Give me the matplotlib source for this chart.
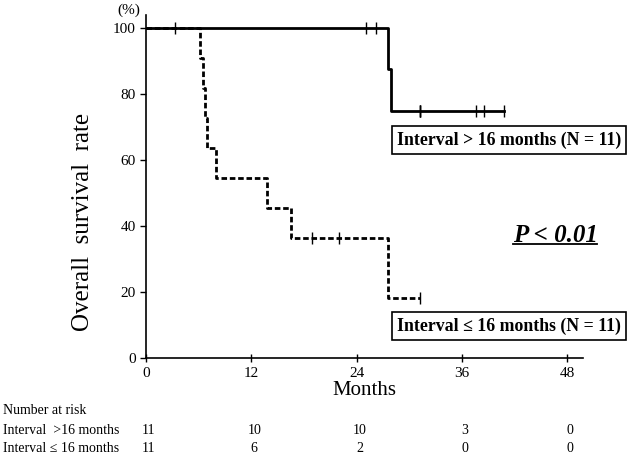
import numpy as np
import matplotlib.pyplot as plt

plt.rcParams['font.family'] = ['Liberation Serif', 'DejaVu Serif']

# Kaplan-Meier curves (months, % surviving)
long_t = [0, 27.6, 27.9, 40.8]
long_s = [100, 87.5, 75, 75]
long_cens_t = [3.3, 25.1, 26.2, 31.2, 31.2, 31.2, 37.6, 38.5, 40.8]
long_cens_s = [100, 100, 100, 75, 75, 75, 75, 75, 75]

short_t = [0, 6.2, 6.5, 6.7, 7.0, 8.0, 13.8, 16.5, 27.6, 31.2]
short_s = [100, 90.9, 81.8, 72.7, 63.6, 54.5, 45.5, 36.4, 18.2, 18.2]
short_cens_t = [18.9, 22.0, 31.2]
short_cens_s = [36.4, 36.4, 18.2]

risk_times = [0, 12, 24, 36, 48]
risk_long = [11, 10, 10, 3, 0]
risk_short = [11, 6, 2, 0, 0]

W, H = 630, 458
fig = plt.figure(figsize=(6.3, 4.58), dpi=100)
ax = fig.add_axes([0.2317, 0.2183, 0.6937, 0.7489])

ax.plot(long_t, long_s, drawstyle='steps-post', color='black', lw=2.0)
ax.plot(long_cens_t, long_cens_s, ls='none', marker='|', ms=8, mew=1.0, color='black')
ax.plot(short_t, short_s, drawstyle='steps-post', color='black', lw=2.0, ls=(0, (2, 1)))
ax.plot(short_cens_t, short_cens_s, ls='none', marker='|', ms=8, mew=1.0, color='black')

ax.set_xlim(0, 49.8)
ax.set_ylim(0, 104)
ax.set_xticks(risk_times)
ax.set_yticks([0, 20, 40, 60, 80, 100])
ax.spines['top'].set_visible(False)
ax.spines['right'].set_visible(False)
for s in ['left', 'bottom']:
    ax.spines[s].set_linewidth(1.2)
ax.tick_params(direction='inout', length=6, width=1.0, labelsize=11)
ax.tick_params(axis='y', direction='out', length=4)
ax.set_xlabel('Months', fontsize=15, labelpad=1)
fig.text(83 / W, 1 - 222 / H, 'Overall  survival  rate', rotation=90,
         ha='center', va='center', fontsize=18)
fig.text(140 / W, 1 - 10 / H, '(%)', ha='right', va='center', fontsize=11)

box = dict(boxstyle='square,pad=0.3', fc='white', ec='black', lw=1.2)
fig.text(509 / W, 1 - 140 / H, 'Interval > 16 months (N = 11)',
         ha='center', va='center', fontsize=12.8, fontweight='bold', bbox=box)
fig.text(509 / W, 1 - 326 / H, 'Interval \u2264 16 months (N = 11)',
         ha='center', va='center', fontsize=12.8, fontweight='bold', bbox=box)
fig.text(555 / W, 1 - 235 / H, 'P < 0.01', ha='center', va='center',
         fontsize=18, fontweight='bold', style='italic')
fig.add_artist(plt.Line2D([513 / W, 597 / W], [1 - 244 / H, 1 - 244 / H],
                          transform=fig.transFigure, color='black', lw=1.3))

# number at risk table
fig.text(3 / W, 1 - 410 / H, 'Number at risk', fontsize=10, va='center')
fig.text(3 / W, 1 - 430 / H, 'Interval  >16 months', fontsize=10, va='center')
fig.text(3 / W, 1 - 448 / H, 'Interval \u2264 16 months', fontsize=10, va='center')
for t, a, b in zip(risk_times, risk_long, risk_short):
    xf = fig.transFigure.inverted().transform(ax.transData.transform((t, 0)))[0]
    fig.text(xf + 3 / W, 1 - 430 / H, str(a), fontsize=10, ha='center', va='center')
    fig.text(xf + 3 / W, 1 - 448 / H, str(b), fontsize=10, ha='center', va='center')

fig.savefig('out.png', dpi=100)
